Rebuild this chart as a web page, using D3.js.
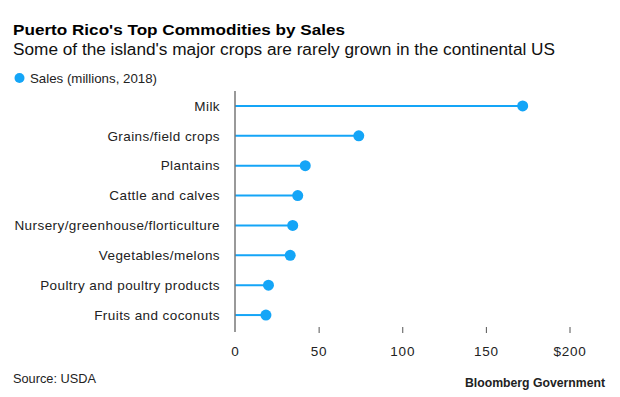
<!DOCTYPE html>
<html>
<head>
<meta charset="utf-8">
<script src="https://cdn.jsdelivr.net/npm/d3@7"></script>
<style>
  html, body { margin: 0; padding: 0; background: #fff; }
  svg { display: block; font-family: "Liberation Sans", Arial, Helvetica, sans-serif; }
</style>
</head>
<body>
<svg id="chart" width="620" height="397"></svg>
<script>
const categories = [
  "Milk",
  "Grains/field crops",
  "Plantains",
  "Cattle and calves",
  "Nursery/greenhouse/florticulture",
  "Vegetables/melons",
  "Poultry and poultry products",
  "Fruits and coconuts"
];
const sales = [172, 74, 42, 37.5, 34.5, 33, 20, 18.5];
const tickValues = [0, 50, 100, 150, 200];
const tickLabels = ["0", "50", "100", "150", "$200"];

const title = "Puerto Rico's Top Commodities by Sales";
const subtitle = "Some of the island's major crops are rarely grown in the continental US";
const legendLabel = "Sales (millions, 2018)";
const source = "Source: USDA";
const brand = "Bloomberg Government";

const blue = "#14a5f7";
const svg = d3.select("#chart");

const x = d3.scaleLinear().domain([0, 200]).range([235, 569.5]);
const y = d3.scaleBand().domain(categories).range([91, 330]);

// Title & subtitle
svg.append("text").attr("x", 13).attr("y", 35)
  .attr("font-size", 15.5).attr("font-weight", "bold").attr("fill", "#000")
  .attr("textLength", 332).attr("lengthAdjust", "spacingAndGlyphs")
  .text(title);
svg.append("text").attr("x", 13).attr("y", 55)
  .attr("font-size", 16).attr("fill", "#111")
  .attr("textLength", 542).attr("lengthAdjust", "spacingAndGlyphs")
  .text(subtitle);

// Legend
svg.append("circle").attr("cx", 19.5).attr("cy", 78).attr("r", 5).attr("fill", blue);
svg.append("text").attr("x", 30).attr("y", 82.5)
  .attr("font-size", 13).attr("fill", "#222")
  .attr("textLength", 127).attr("lengthAdjust", "spacingAndGlyphs")
  .text(legendLabel);

// Category labels
svg.append("g").selectAll("text").data(categories).join("text")
  .attr("x", 220)
  .attr("y", d => y(d) + y.bandwidth() / 2)
  .attr("dy", "0.35em")
  .attr("text-anchor", "end")
  .attr("font-size", 13.5)
  .attr("letter-spacing", 0.42)
  .attr("fill", "#222")
  .text(d => d);

// X axis ticks (zero uses the baseline instead of a tick)
const xAxis = d3.axisBottom(x)
  .tickValues(tickValues)
  .tickFormat((d, i) => tickLabels[i])
  .tickSize(6)
  .tickPadding(13);
const gx = svg.append("g").attr("transform", "translate(0,327)").call(xAxis);
gx.select(".domain").remove();
gx.selectAll(".tick line").attr("stroke", "#555").attr("stroke-width", 1)
  .filter(d => d === 0).remove();
gx.selectAll(".tick text").attr("font-size", 13.5).attr("fill", "#222")
  .attr("letter-spacing", 0.8)
  .attr("font-family", "\"Liberation Sans\", Arial, sans-serif");

// Stems
const data = categories.map((c, i) => ({ c, v: sales[i] }));
svg.append("g").selectAll("line").data(data).join("line")
  .attr("x1", x(0))
  .attr("x2", d => x(d.v))
  .attr("y1", d => y(d.c) + y.bandwidth() / 2)
  .attr("y2", d => y(d.c) + y.bandwidth() / 2)
  .attr("stroke", blue).attr("stroke-width", 2);

// Baseline
svg.append("line").attr("x1", x(0)).attr("x2", x(0))
  .attr("y1", 91).attr("y2", 332)
  .attr("stroke", "#777").attr("stroke-width", 1.5);

// Dots
svg.append("g").selectAll("circle").data(data).join("circle")
  .attr("cx", d => x(d.v))
  .attr("cy", d => y(d.c) + y.bandwidth() / 2)
  .attr("r", 5.5)
  .attr("fill", blue);

// Footer
svg.append("text").attr("x", 13).attr("y", 382.5)
  .attr("font-size", 12.5).attr("fill", "#222")
  .attr("textLength", 83).attr("lengthAdjust", "spacingAndGlyphs")
  .text(source);
svg.append("text").attr("x", 605).attr("y", 386.5)
  .attr("text-anchor", "end")
  .attr("font-size", 12.5).attr("font-weight", "bold").attr("fill", "#222")
  .attr("textLength", 140).attr("lengthAdjust", "spacingAndGlyphs")
  .text(brand);
</script>
</body>
</html>
